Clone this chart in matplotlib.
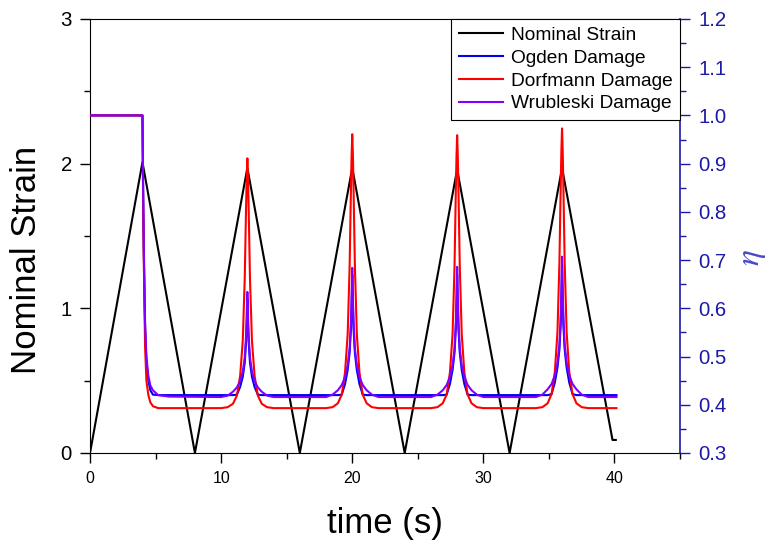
import matplotlib.pyplot as plt
from matplotlib.ticker import MultipleLocator, FormatStrFormatter

plt.rcParams['font.family'] = ['Liberation Sans', 'DejaVu Sans']
plt.rcParams['mathtext.fontset'] = 'stix'

# Nominal strain (left axis)
t_strain = [0, 4, 8, 12, 16, 20, 24, 28, 32, 36, 39.85, 40.1]
strain = [0, 2.01, 0, 1.97, 0, 1.97, 0, 1.96, 0, 1.97, 0.09, 0.09]

# Damage variable eta (right axis)
t_eta = [0, 4.0, 4.05, 4.1, 4.2, 4.3, 4.45, 4.6, 4.8, 5.2, 6.0,
         10.0, 10.5, 10.9, 11.2, 11.45, 11.65, 11.8, 11.9, 11.95, 12.0,
         12.05, 12.1, 12.2, 12.35, 12.55, 12.8, 13.1, 13.5, 14.0,
         18.0, 18.5, 18.9, 19.2, 19.45, 19.65, 19.8, 19.9, 19.95, 20.0,
         20.05, 20.1, 20.2, 20.35, 20.55, 20.8, 21.1, 21.5, 22.0,
         26.0, 26.5, 26.9, 27.2, 27.45, 27.65, 27.8, 27.9, 27.95, 28.0,
         28.05, 28.1, 28.2, 28.35, 28.55, 28.8, 29.1, 29.5, 30.0,
         34.0, 34.5, 34.9, 35.2, 35.45, 35.65, 35.8, 35.9, 35.95, 36.0,
         36.05, 36.1, 36.2, 36.35, 36.55, 36.8, 37.1, 37.5, 38.0,
         40.15]

eta_ogden = [1.0, 1.0, 0.85, 0.72, 0.56, 0.49, 0.45, 0.43, 0.421, 0.42, 0.42,
             0.42, 0.42, 0.42, 0.421, 0.437, 0.458, 0.487, 0.53, 0.568, 0.62,
             0.568, 0.53, 0.487, 0.458, 0.437, 0.421, 0.42, 0.42, 0.42,
             0.42, 0.42, 0.42, 0.421, 0.443, 0.472, 0.508, 0.558, 0.605, 0.67,
             0.605, 0.558, 0.508, 0.472, 0.443, 0.421, 0.42, 0.42, 0.42,
             0.42, 0.42, 0.42, 0.421, 0.443, 0.472, 0.508, 0.558, 0.605, 0.67,
             0.605, 0.558, 0.508, 0.472, 0.443, 0.421, 0.42, 0.42, 0.42,
             0.42, 0.42, 0.42, 0.422, 0.446, 0.477, 0.515, 0.568, 0.618, 0.69,
             0.618, 0.568, 0.515, 0.477, 0.446, 0.422, 0.42, 0.42, 0.42,
             0.42]

eta_dorfmann = [1.0, 1.0, 0.82, 0.70, 0.52, 0.45, 0.42, 0.405, 0.397, 0.393, 0.393,
                0.393, 0.395, 0.402, 0.419, 0.460, 0.533, 0.662, 0.807, 0.870, 0.911,
                0.870, 0.807, 0.662, 0.533, 0.460, 0.419, 0.402, 0.395, 0.393,
                0.393, 0.395, 0.403, 0.421, 0.467, 0.546, 0.688, 0.847, 0.916, 0.961,
                0.916, 0.847, 0.688, 0.546, 0.467, 0.421, 0.403, 0.395, 0.393,
                0.393, 0.395, 0.403, 0.421, 0.467, 0.546, 0.687, 0.846, 0.914, 0.959,
                0.914, 0.846, 0.687, 0.546, 0.467, 0.421, 0.403, 0.395, 0.393,
                0.393, 0.395, 0.403, 0.422, 0.468, 0.550, 0.695, 0.857, 0.927, 0.973,
                0.927, 0.857, 0.695, 0.550, 0.468, 0.422, 0.403, 0.395, 0.393,
                0.393]

eta_wrubleski = [1.0, 1.0, 0.85, 0.73, 0.57, 0.50, 0.46, 0.44, 0.43, 0.42, 0.417,
                 0.416, 0.419, 0.427, 0.436, 0.449, 0.469, 0.498, 0.542, 0.581, 0.634,
                 0.581, 0.542, 0.498, 0.469, 0.449, 0.436, 0.427, 0.419, 0.416,
                 0.416, 0.421, 0.430, 0.441, 0.457, 0.482, 0.517, 0.571, 0.619, 0.684,
                 0.619, 0.571, 0.517, 0.482, 0.457, 0.441, 0.430, 0.421, 0.416,
                 0.416, 0.421, 0.430, 0.441, 0.458, 0.482, 0.517, 0.572, 0.621, 0.686,
                 0.621, 0.572, 0.517, 0.482, 0.458, 0.441, 0.430, 0.421, 0.416,
                 0.416, 0.421, 0.432, 0.443, 0.461, 0.487, 0.525, 0.584, 0.637, 0.707,
                 0.637, 0.584, 0.525, 0.487, 0.461, 0.443, 0.432, 0.421, 0.416,
                 0.416]

navy = '#1a1aa6'

fig = plt.figure(figsize=(7.78, 5.5), dpi=100)
ax = fig.add_axes([0.1157, 0.1764, 0.7584, 0.7891])
ax2 = ax.twinx()

l0, = ax.plot(t_strain, strain, color='black', lw=1.5, label='Nominal Strain')
l1, = ax2.plot(t_eta, eta_ogden, color='#0000ee', lw=1.5, label='Ogden Damage')
l2, = ax2.plot(t_eta, eta_dorfmann, color='#ff0000', lw=1.5, label='Dorfmann Damage')
l3, = ax2.plot(t_eta, eta_wrubleski, color='#7f00ff', lw=1.5, label='Wrubleski Damage')

ax.set_xlim(0, 45)
ax.set_ylim(0, 3)
ax.xaxis.set_major_locator(MultipleLocator(10))
ax.xaxis.set_minor_locator(MultipleLocator(5))
ax.yaxis.set_major_locator(MultipleLocator(1))
ax.yaxis.set_minor_locator(MultipleLocator(0.5))
ax.tick_params(which='both', direction='out', top=False, right=False, width=1)
ax.tick_params(which='major', length=7)
ax.tick_params(which='minor', length=4)
ax.tick_params(axis='x', labelsize=11.5, pad=6)
ax.tick_params(axis='y', labelsize=14.7, pad=6)
ax.spines['right'].set_visible(False)
ax.set_xlabel('time (s)', fontsize=25, labelpad=15)
ax.set_ylabel('Nominal Strain', fontsize=25)
ax.yaxis.set_label_coords(-0.08, 0.445)

ax2.set_ylim(0.3, 1.2)
ax2.yaxis.set_major_locator(MultipleLocator(0.1))
ax2.yaxis.set_minor_locator(MultipleLocator(0.05))
ax2.yaxis.set_major_formatter(FormatStrFormatter('%.1f'))
ax2.tick_params(which='both', direction='out', color=navy, labelcolor=navy, width=1)
ax2.tick_params(which='major', length=7, labelsize=14.7, pad=6)
ax2.tick_params(which='minor', length=4)
for side in ['left', 'top', 'bottom']:
    ax2.spines[side].set_visible(False)
ax2.spines['right'].set_color(navy)
ax2.spines['right'].set_linewidth(1.2)
ax2.set_ylabel(r'$\eta$', fontsize=24, color='#4a4ac8')
ax2.yaxis.set_label_coords(1.097, 0.45)

leg = ax2.legend(handles=[l0, l1, l2, l3], loc='upper right', bbox_to_anchor=(1.0, 1.0),
                 borderaxespad=0.0, fontsize=13.8, fancybox=False, framealpha=1,
                 edgecolor='black', handlelength=2.3, handletextpad=0.4,
                 labelspacing=0.28, borderpad=0.4)
leg.get_frame().set_linewidth(0.8)

fig.savefig('out.png', dpi=100)
